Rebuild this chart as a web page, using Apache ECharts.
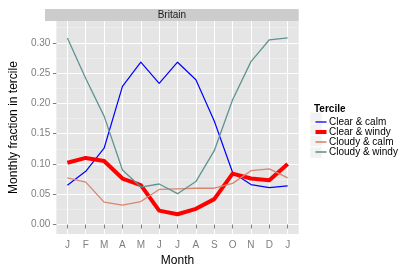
<!DOCTYPE html>
<html><head><meta charset="utf-8">
<script src="https://cdn.jsdelivr.net/npm/echarts@6/dist/echarts.min.js"></script>
<style>html,body{margin:0;padding:0;background:#fff}#c{width:415px;height:272px}</style>
</head><body><div id="c"></div>
<script>
const months = ['J','F','M','A','M','J','J','A','S','O','N','D','J'];
const clearCalm   = [0.065,0.088,0.126,0.228,0.268,0.233,0.268,0.239,0.171,0.086,0.066,0.061,0.064];
const clearWindy  = [0.102,0.110,0.105,0.076,0.065,0.023,0.017,0.026,0.042,0.084,0.076,0.073,0.100];
const cloudyCalm  = [0.077,0.070,0.037,0.032,0.038,0.058,0.059,0.060,0.060,0.068,0.089,0.092,0.077];
const cloudyWindy = [0.308,0.241,0.179,0.090,0.062,0.067,0.051,0.071,0.122,0.206,0.269,0.305,0.308];
const yTicks = [0,0.05,0.10,0.15,0.20,0.25,0.30];
const yMinor = [0.025,0.075,0.125,0.175,0.225,0.275,0.325];
const seriesNames = ['Clear & calm','Clear & windy','Cloudy & calm','Cloudy & windy'];
const seriesData = [clearCalm, clearWindy, cloudyCalm, cloudyWindy];
const colors = ['#0000FF','#FF0000','#D8866E','#5E9490'];
const widths = [1.2,4,1.3,1.3];
const iconH = [1.3,4,1.6,1.6];

const FONT = 'Liberation Sans, Arial, Helvetica, sans-serif';
const xs = months.map((m,i)=>i+1);
const chart = echarts.init(document.getElementById('c'), null, {renderer:'canvas'});
const GL=45, GR=298.7, GT=21, GB=238.7;
const LEG_TOP=112, LEG_H=11.6;
const keyBoxes = seriesNames.map((n,i)=>({type:'rect', shape:{x:310, y:LEG_TOP+i*LEG_H+0.3, width:12, height:LEG_H-0.6}, style:{fill:'#F2F2F2', stroke:'#FFFFFF', lineWidth:0.5}, z:-1}));
chart.setOption({
  animation:false,
  textStyle:{fontFamily:FONT},
  title:[
    {text:'Tercile', left:309, top:99, textStyle:{fontSize:10, fontWeight:'bold', color:'#000', fontFamily:FONT}}
  ],
  graphic:[
    {type:'rect', shape:{x:GL, y:9, width:GR-GL, height:GT-9}, style:{fill:'#CCCCCC'}, z:10},
    {type:'text', x:(GL+GR)/2, y:15.5, style:{text:'Britain', fontSize:10, fontFamily:FONT, fill:'#1a1a1a', align:'center', verticalAlign:'middle'}, z:11}
  ].concat(keyBoxes),
  legend:{
    orient:'vertical', left:310.5, top:LEG_TOP,
    itemWidth:11, itemHeight:LEG_H, itemGap:0,
    symbolKeepAspect:true,
    textStyle:{fontSize:10, color:'#000', fontFamily:FONT, padding:[0,0,0,-2.5]},
    data: seriesNames.map((n,i)=>({name:n, icon:'path://M0,0H12V'+iconH[i]*12/11+'H0Z', itemStyle:{color:colors[i]}}))
  },
  grid:{left:GL, right:415-GR, top:GT, bottom:272-GB, show:true, backgroundColor:'#E5E5E5', borderWidth:0, containLabel:false},
  xAxis:[{
    type:'value', min:0.4, max:13.6,
    name:'Month', nameLocation:'middle', nameGap:15,
    nameTextStyle:{fontSize:12, color:'#000', fontFamily:FONT},
    axisLine:{show:false},
    axisTick:{show:true, length:4, lineStyle:{color:'#7F7F7F', width:1}, customValues:xs},
    axisLabel:{customValues:xs, fontSize:10, color:'#7F7F7F', margin:6, fontFamily:FONT,
      formatter:(v)=>months[Math.round(v)-1]||''},
    splitLine:{show:true, lineStyle:{color:'#FFFFFF', width:1}}
  }],
  yAxis:[{
    type:'value', min:-0.0157, max:0.336,
    name:'Monthly fraction in tercile', nameLocation:'middle', nameGap:27, nameRotate:90,
    nameTextStyle:{fontSize:12, color:'#000', fontFamily:FONT},
    axisLine:{show:false},
    axisTick:{show:true, length:3.5, lineStyle:{color:'#7F7F7F', width:1}, customValues:yTicks},
    axisLabel:{customValues:yTicks, fontSize:10, color:'#7F7F7F', margin:6, fontFamily:FONT,
      formatter:(v)=>v.toFixed(2)},
    splitLine:{show:true, lineStyle:{color:'#FFFFFF', width:1}}
  },{
    type:'value', min:-0.0157, max:0.336, position:'left',
    axisLine:{show:false}, axisLabel:{show:false},
    axisTick:{show:false, customValues:yMinor},
    splitLine:{show:true, lineStyle:{color:'#F0F0F0', width:0.7}}
  }],
  series: seriesNames.map((n,i)=>({
    name:n, type:'line', xAxisIndex:0, yAxisIndex:0,
    data: xs.map((x,j)=>[x, seriesData[i][j]]),
    symbol:'none', silent:true,
    lineStyle:{color:colors[i], width:widths[i], join:'round'},
    itemStyle:{color:colors[i]},
    z:2+i
  }))
});
</script></body></html>
